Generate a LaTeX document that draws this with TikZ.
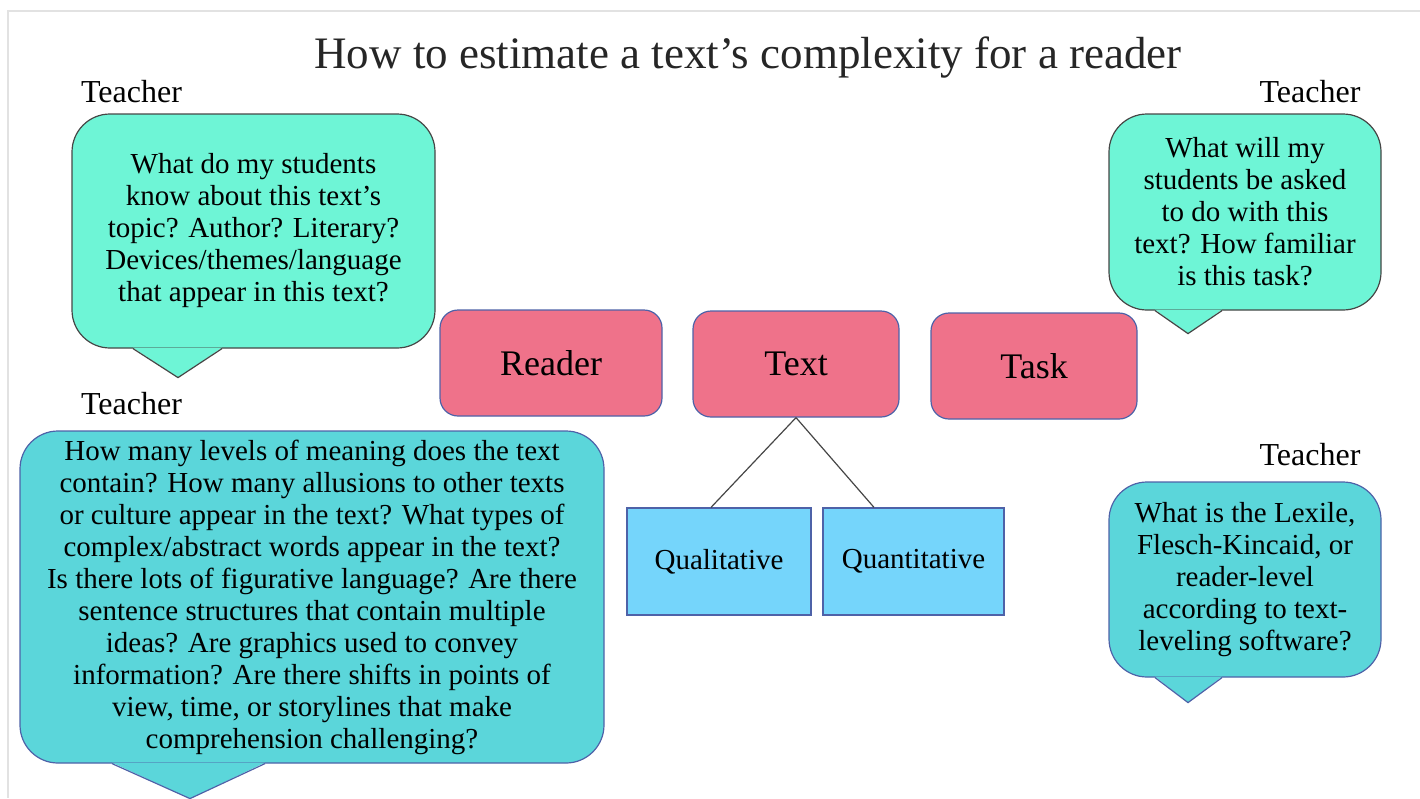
\documentclass[tikz,border=0pt]{standalone}
\usepackage{fontspec}
\setmainfont{Liberation Serif}
\definecolor{CallMint}{RGB}{110,245,214}
\definecolor{CallTeal}{RGB}{91,214,218}
\definecolor{FactorPink}{RGB}{239,114,138}
\definecolor{MeasureBlue}{RGB}{117,213,251}
\definecolor{EdgeBlue}{RGB}{78,98,168}
\definecolor{EdgeGray}{RGB}{70,70,70}
\definecolor{FrameGray}{RGB}{226,226,226}
\usetikzlibrary{positioning}

\begin{document}
\begin{tikzpicture}[
        x=1pt, y=-1pt,
        callbox/.style={rectangle, draw, rounded corners=38pt, inner sep=0pt, line width=1.2pt, align=center, font=\fontsize{29}{32}\selectfont},
        factor/.style={rectangle, draw=EdgeBlue, fill=FactorPink, rounded corners=18pt, inner sep=0pt, line width=1.2pt, minimum height=106pt, font=\fontsize{36}{40}\selectfont},
        measure/.style={rectangle, draw=EdgeBlue, fill=MeasureBlue, inner sep=0pt, line width=1.2pt, minimum height=107pt, font=\fontsize{29}{32}\selectfont},
        who/.style={anchor=base, font=\fontsize{32}{36}\selectfont}
    ]
        \useasboundingbox (0,0) rectangle (1420,798);

        % page frame (top and left only)
        \draw[FrameGray, line width=2pt] (8,798) -- (8,11) -- (1420,11);

        % Title
        \node[anchor=base, font=\fontsize{45}{50}\selectfont, text=black!85] (title) at (748,68) {How to estimate a text’s complexity for a reader};

        % Callouts with teacher questions
        \node[callbox, draw=EdgeGray, fill=CallMint, minimum width=363pt, minimum height=234pt] (q1) at (253.5,231) {What do my students\\know about this text’s\\topic? Author? Literary?\\Devices/themes/language\\that appear in this text?};
        \node[callbox, draw=EdgeGray, fill=CallMint, minimum width=272pt, minimum height=196pt] (q2) at (1245,212) {What will my\\students be asked\\to do with this\\text? How familiar\\is this task?};
        \node[callbox, draw=EdgeBlue, fill=CallTeal, minimum width=584pt, minimum height=332pt] (q3) at (312,597) {How many levels of meaning does the text\\contain? How many allusions to other texts\\or culture appear in the text? What types of\\complex/abstract words appear in the text?\\Is there lots of figurative language? Are there\\sentence structures that contain multiple\\ideas? Are graphics used to convey\\information? Are there shifts in points of\\view, time, or storylines that make\\comprehension challenging?};
        \node[callbox, draw=EdgeBlue, fill=CallTeal, minimum width=272pt, minimum height=195pt] (q4) at (1245,579.5) {What is the Lexile,\\Flesch-Kincaid, or\\reader-level\\according to text-\\leveling software?};

        % Callout tails
        \foreach \n/\l/\t/\r/\d/\c/\e in {q1/-120.5/-75.5/-31.5/29/CallMint/EdgeGray, q2/-90/-57/-23/23/CallMint/EdgeGray, q3/-200/-122/-47/35/CallTeal/EdgeBlue, q4/-90/-57/-23/25/CallTeal/EdgeBlue} {
            \fill[\c] ([xshift=\l pt, yshift=1pt]\n.south) -- ([xshift=\t pt, yshift=-\d pt]\n.south) -- ([xshift=\r pt, yshift=1pt]\n.south) -- cycle;
            \draw[\e, line width=1.2pt, line join=miter] ([xshift=\l pt]\n.south) -- ([xshift=\t pt, yshift=-\d pt]\n.south) -- ([xshift=\r pt]\n.south);
        }

        % Teacher labels
        \node[who] (t1) at (131.5,102) {Teacher};
        \node[who] (t2) at (1310,102) {Teacher};
        \node[who] (t3) at (131.5,414) {Teacher};
        \node[who] (t4) at (1310,465) {Teacher};

        % Reader / Text / Task
        \node[factor, minimum width=222pt] (reader) at (551,363) {Reader};
        \node[factor, minimum width=206pt] (txt) at (796,364) {Text};
        \node[factor, minimum width=206pt] (task) at (1034,366) {Task};

        % Qualitative / Quantitative
        \node[measure, minimum width=184pt] (qual) at (719,561.5) {Qualitative};
        \node[measure, minimum width=181pt] (quan) at (913.5,561.5) {Quantitative};

        \draw[EdgeGray, line width=1.2pt] (txt.south) -- ([xshift=-8pt]qual.north);
        \draw[EdgeGray, line width=1.2pt] (txt.south) -- ([xshift=-39.5pt]quan.north);
    \end{tikzpicture}
\end{document}
